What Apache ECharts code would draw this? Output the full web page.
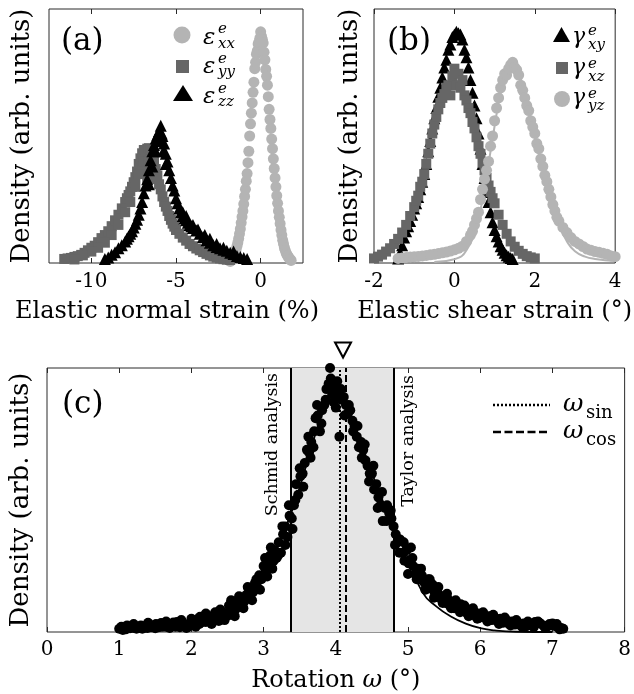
<!DOCTYPE html>
<html><head><meta charset="utf-8">
<script src="https://cdn.jsdelivr.net/npm/echarts@6/dist/echarts.min.js"></script>
<style>html,body{margin:0;padding:0;background:#fff}#c{width:634px;height:694px}</style>
</head><body><div id="c"></div>
<script>
// ---------- Panel (a): elastic normal strain (%) ----------
const aTicks = [-10, -5, 0];
const exx = [[-1.80,0.006],[-1.75,0.010],[-1.70,0.015],[-1.65,0.020],[-1.60,0.026],[-1.55,0.033],[-1.50,0.042],[-1.45,0.052],[-1.40,0.066],[-1.35,0.080],[-1.30,0.096],[-1.25,0.115],[-1.20,0.134],[-1.15,0.158],[-1.10,0.182],[-1.05,0.205],[-1.00,0.232],[-0.95,0.262],[-0.90,0.290],[-0.85,0.322],[-0.80,0.352],[-0.75,0.395],[-0.70,0.440],[-0.65,0.500],[-0.60,0.548],[-0.55,0.590],[-0.50,0.630],[-0.45,0.672],[-0.40,0.712],[-0.35,0.765],[-0.30,0.790],[-0.25,0.822],[-0.20,0.835],[-0.15,0.862],[-0.10,0.870],[-0.05,0.885],[0.00,0.910],[0.05,0.892],[0.10,0.880],[0.15,0.866],[0.20,0.830],[0.25,0.800],[0.30,0.762],[0.35,0.735],[0.40,0.700],[0.45,0.655],[0.50,0.605],[0.55,0.565],[0.60,0.530],[0.65,0.488],[0.70,0.450],[0.75,0.410],[0.80,0.372],[0.85,0.335],[0.90,0.300],[0.95,0.265],[1.00,0.235],[1.05,0.205],[1.10,0.180],[1.15,0.155],[1.20,0.130],[1.25,0.110],[1.30,0.090],[1.35,0.075],[1.40,0.060],[1.45,0.050],[1.50,0.040],[1.55,0.033],[1.60,0.028],[1.65,0.022],[1.70,0.018],[1.75,0.013],[1.80,0.010]];
const eyy = [[-11.6,0.016],[-11.4,0.018],[-11.2,0.020],[-11.0,0.024],[-10.8,0.027],[-10.6,0.032],[-10.4,0.040],[-10.2,0.050],[-10.0,0.060],[-9.8,0.068],[-9.6,0.082],[-9.4,0.098],[-9.2,0.110],[-9.0,0.125],[-8.8,0.145],[-8.6,0.168],[-8.4,0.190],[-8.2,0.215],[-8.0,0.240],[-7.9,0.255],[-7.8,0.268],[-7.7,0.282],[-7.6,0.300],[-7.5,0.318],[-7.4,0.338],[-7.3,0.360],[-7.2,0.390],[-7.1,0.412],[-7.0,0.432],[-6.9,0.445],[-6.8,0.440],[-6.7,0.450],[-6.6,0.452],[-6.5,0.446],[-6.4,0.448],[-6.3,0.405],[-6.2,0.370],[-6.1,0.345],[-6.0,0.310],[-5.9,0.290],[-5.8,0.262],[-5.7,0.240],[-5.6,0.222],[-5.5,0.205],[-5.4,0.185],[-5.3,0.170],[-5.2,0.155],[-5.1,0.143],[-5.0,0.130],[-4.8,0.115],[-4.6,0.100],[-4.4,0.088],[-4.2,0.075],[-4.0,0.066],[-3.8,0.057],[-3.6,0.050],[-3.4,0.043],[-3.2,0.036],[-3.0,0.030],[-2.8,0.025],[-2.6,0.021],[-2.4,0.018],[-2.2,0.015],[-2.0,0.013],[-1.8,0.012],
  [-7.0,0.380],[-6.9,0.400],[-6.8,0.360],[-6.7,0.330],[-6.6,0.400],[-6.5,0.350],[-6.4,0.380],[-6.3,0.330],[-7.2,0.350],[-7.4,0.300],[-7.7,0.240],[-8.0,0.200],[-8.4,0.150],[-8.8,0.110],[-9.2,0.080],[-9.6,0.060],[-10.0,0.045],[-10.5,0.030],[-11.0,0.014]];
const ezz = [[-9.2,0.016],[-9.0,0.022],[-8.8,0.032],[-8.6,0.042],[-8.4,0.058],[-8.2,0.070],[-8.0,0.085],[-7.9,0.095],[-7.8,0.105],[-7.7,0.115],[-7.6,0.125],[-7.5,0.140],[-7.4,0.155],[-7.3,0.170],[-7.2,0.190],[-7.1,0.215],[-7.0,0.240],[-6.9,0.275],[-6.8,0.305],[-6.7,0.330],[-6.6,0.365],[-6.5,0.405],[-6.4,0.440],[-6.3,0.465],[-6.2,0.490],[-6.1,0.505],[-6.0,0.520],[-5.9,0.540],[-5.8,0.500],[-5.7,0.470],[-5.6,0.430],[-5.5,0.400],[-5.4,0.365],[-5.3,0.335],[-5.2,0.305],[-5.1,0.285],[-5.0,0.255],[-4.9,0.235],[-4.8,0.215],[-4.7,0.200],[-4.6,0.185],[-4.5,0.175],[-4.4,0.168],[-4.3,0.158],[-4.2,0.150],[-4.1,0.145],[-4.0,0.138],[-3.8,0.128],[-3.6,0.115],[-3.4,0.102],[-3.2,0.090],[-3.0,0.080],[-2.8,0.070],[-2.6,0.063],[-2.4,0.058],[-2.2,0.052],[-2.0,0.048],[-1.8,0.040],[-1.6,0.035],[-1.4,0.028],[-1.2,0.024],[-1.0,0.020],[-0.8,0.016],
  [-4.6,0.200],[-4.4,0.185],[-4.0,0.150],[-3.7,0.132],[-3.3,0.110],[-3.0,0.095],[-2.6,0.075],[-2.2,0.060],[-1.6,0.045],[-6.6,0.310],[-6.4,0.380],[-6.2,0.440],[-6.0,0.480],[-5.85,0.510],[-5.75,0.440],[-5.6,0.390]];

// ---------- Panel (b): elastic shear strain (deg) ----------
const gxy = [[-1.40,0.018],[-1.35,0.040],[-1.30,0.070],[-1.25,0.100],[-1.20,0.125],[-1.15,0.145],[-1.10,0.165],[-1.05,0.190],[-1.00,0.215],[-0.95,0.235],[-0.90,0.260],[-0.85,0.290],[-0.80,0.320],[-0.75,0.350],[-0.70,0.390],[-0.65,0.440],[-0.60,0.480],[-0.55,0.530],[-0.50,0.570],[-0.45,0.610],[-0.40,0.655],[-0.35,0.690],[-0.30,0.730],[-0.25,0.770],[-0.20,0.800],[-0.15,0.840],[-0.10,0.860],[-0.05,0.890],[0.00,0.900],[0.05,0.910],[0.10,0.905],[0.15,0.900],[0.20,0.880],[0.25,0.840],[0.30,0.810],[0.35,0.770],[0.40,0.720],[0.45,0.670],[0.50,0.620],[0.55,0.570],[0.60,0.510],[0.65,0.450],[0.70,0.390],[0.75,0.335],[0.80,0.280],[0.85,0.240],[0.90,0.200],[0.95,0.160],[1.00,0.130],[1.05,0.105],[1.10,0.085],[1.15,0.066],[1.20,0.052],[1.25,0.040],[1.30,0.031],[1.35,0.025],[1.40,0.020],[1.45,0.016]];
const gxz = [[-2.00,0.018],[-1.90,0.025],[-1.80,0.033],[-1.70,0.045],[-1.60,0.058],[-1.50,0.075],[-1.40,0.095],[-1.30,0.120],[-1.20,0.150],[-1.10,0.185],[-1.00,0.220],[-0.95,0.245],[-0.90,0.265],[-0.85,0.300],[-0.80,0.320],[-0.75,0.350],[-0.70,0.390],[-0.65,0.430],[-0.60,0.470],[-0.55,0.510],[-0.50,0.545],[-0.45,0.575],[-0.40,0.605],[-0.35,0.630],[-0.30,0.650],[-0.25,0.665],[-0.20,0.690],[-0.15,0.700],[-0.10,0.660],[-0.05,0.735],[0.00,0.765],[0.05,0.700],[0.10,0.745],[0.15,0.690],[0.20,0.720],[0.25,0.660],[0.30,0.640],[0.35,0.610],[0.40,0.590],[0.45,0.555],[0.50,0.530],[0.55,0.495],[0.60,0.460],[0.65,0.430],[0.70,0.395],[0.75,0.365],[0.80,0.335],[0.85,0.305],[0.90,0.280],[0.95,0.255],[1.00,0.235],[1.10,0.190],[1.20,0.150],[1.30,0.115],[1.40,0.085],[1.50,0.064],[1.60,0.048],[1.70,0.036],[1.80,0.027],[1.90,0.022],[2.00,0.018]];
const gyz = [[-1.40,0.018],[-1.30,0.020],[-1.20,0.022],[-1.10,0.024],[-1.00,0.025],[-0.90,0.026],[-0.80,0.028],[-0.70,0.030],[-0.60,0.032],[-0.50,0.034],[-0.40,0.037],[-0.30,0.040],[-0.20,0.043],[-0.10,0.047],[0.00,0.052],[0.10,0.058],[0.20,0.066],[0.30,0.085],[0.40,0.110],[0.45,0.125],[0.50,0.150],[0.55,0.175],[0.60,0.200],[0.65,0.250],[0.70,0.290],[0.75,0.330],[0.80,0.365],[0.85,0.400],[0.90,0.460],[0.95,0.500],[1.00,0.560],[1.05,0.610],[1.10,0.650],[1.15,0.690],[1.20,0.720],[1.25,0.745],[1.30,0.740],[1.35,0.765],[1.40,0.780],[1.45,0.790],[1.50,0.770],[1.55,0.760],[1.60,0.740],[1.65,0.700],[1.70,0.680],[1.75,0.650],[1.80,0.620],[1.85,0.600],[1.90,0.560],[1.95,0.535],[2.00,0.510],[2.05,0.470],[2.10,0.450],[2.15,0.410],[2.20,0.380],[2.25,0.345],[2.30,0.320],[2.35,0.290],[2.40,0.260],[2.45,0.230],[2.50,0.205],[2.55,0.180],[2.60,0.165],[2.70,0.140],[2.80,0.120],[2.90,0.100],[3.00,0.085],[3.10,0.075],[3.20,0.065],[3.30,0.055],[3.40,0.050],[3.50,0.045],[3.60,0.042],[3.70,0.038],[3.80,0.034],[3.90,0.028],[4.00,0.025]];
const gyzFit = [[-0.5,0.004],[0.0,0.015],[0.3,0.050],[0.6,0.175],[0.9,0.440],[1.2,0.700],[1.45,0.780],[1.7,0.700],[2.0,0.500],[2.3,0.300],[2.6,0.150],[2.8,0.085],[3.0,0.046],[3.25,0.025],[3.5,0.016],[4.0,0.008]];

// ---------- Panel (c): rotation omega (deg) ----------
const omegaPts = [[1.00,0.012],[1.03,0.020],[1.06,0.015],[1.09,0.010],[1.12,0.018],[1.15,0.014],[1.18,0.022],[1.21,0.016],[1.24,0.012],[1.27,0.020],[1.30,0.025],[1.33,0.018],[1.36,0.022],[1.39,0.015],[1.42,0.028],[1.45,0.020],[1.48,0.024],[1.51,0.030],[1.54,0.018],[1.57,0.026],[1.60,0.022],[1.63,0.032],[1.66,0.020],[1.69,0.027],[1.72,0.024],[1.75,0.036],[1.78,0.020],[1.81,0.028],[1.84,0.018],[1.87,0.025],[1.90,0.022],[1.93,0.015],[1.96,0.030],[1.99,0.026],[2.02,0.042],[2.05,0.035],[2.08,0.048],[2.11,0.030],[2.14,0.040],[2.17,0.055],[2.20,0.038],[2.23,0.050],[2.26,0.045],[2.29,0.060],[2.32,0.048],[2.35,0.058],[2.38,0.042],[2.41,0.065],[2.44,0.055],[2.47,0.070],[2.50,0.062],[2.52,0.100],[2.55,0.078],[2.58,0.090],[2.61,0.085],[2.64,0.110],[2.67,0.098],[2.70,0.125],[2.73,0.115],[2.76,0.140],[2.79,0.130],[2.82,0.165],[2.85,0.150],[2.88,0.185],[2.91,0.170],[2.94,0.215],[2.97,0.200],[3.00,0.250],[3.03,0.230],[3.06,0.270],[3.09,0.290],[3.12,0.240],[3.15,0.310],[3.18,0.280],[3.21,0.340],[3.24,0.300],[3.27,0.370],[3.30,0.400],[3.33,0.360],[3.36,0.440],[3.39,0.430],[3.42,0.480],[3.45,0.560],[3.48,0.520],[3.51,0.590],[3.54,0.600],[3.57,0.640],[3.60,0.690],[3.63,0.680],[3.66,0.720],[3.69,0.700],[3.72,0.810],[3.75,0.820],[3.78,0.760],[3.81,0.840],[3.84,0.860],[3.87,0.920],[3.90,0.940],[3.92,1.000],[3.95,0.900],[3.98,0.930],[4.00,0.850],[4.03,0.900],[4.05,0.740],[4.08,0.880],[4.11,0.890],[4.14,0.860],[4.17,0.830],[4.20,0.840],[4.23,0.800],[4.26,0.780],[4.29,0.740],[4.32,0.700],[4.35,0.720],[4.38,0.690],[4.41,0.650],[4.44,0.630],[4.47,0.600],[4.50,0.600],[4.53,0.540],[4.56,0.560],[4.59,0.510],[4.62,0.480],[4.65,0.420],[4.68,0.470],[4.71,0.480],[4.74,0.450],[4.77,0.430],[4.80,0.400],[4.83,0.370],[4.86,0.340],[4.89,0.350],[4.92,0.300],[4.95,0.270],[4.98,0.310],[5.01,0.260],[5.04,0.320],[5.07,0.250],[5.10,0.220],[5.13,0.240],[5.16,0.200],[5.19,0.215],[5.22,0.190],[5.25,0.175],[5.28,0.200],[5.31,0.165],[5.34,0.180],[5.37,0.150],[5.40,0.160],[5.43,0.140],[5.46,0.125],[5.49,0.135],[5.52,0.110],[5.55,0.125],[5.58,0.100],[5.61,0.115],[5.64,0.090],[5.67,0.100],[5.70,0.085],[5.73,0.105],[5.76,0.080],[5.79,0.090],[5.82,0.070],[5.85,0.085],[5.88,0.065],[5.91,0.075],[5.94,0.060],[5.97,0.070],[6.00,0.055],[6.04,0.075],[6.08,0.050],[6.12,0.060],[6.16,0.045],[6.20,0.055],[6.24,0.040],[6.28,0.050],[6.32,0.035],[6.36,0.045],[6.40,0.030],[6.44,0.040],[6.48,0.028],[6.52,0.036],[6.56,0.025],[6.60,0.032],[6.64,0.022],[6.68,0.030],[6.72,0.025],[6.76,0.038],[6.80,0.040],[6.84,0.030],[6.88,0.024],[6.92,0.020],[6.96,0.030],[7.00,0.032],[7.04,0.022],[7.08,0.018],[7.12,0.015],[7.15,0.012]];
const omegaPtsExtra = [[1.05,0.008],[1.11,0.025],[1.20,0.030],[1.32,0.012],[1.40,0.035],[1.50,0.014],[1.58,0.034],[1.65,0.040],[1.70,0.015],[1.80,0.038],[1.86,0.045],[1.95,0.018],[2.00,0.050],[2.06,0.020],[2.12,0.058],[2.20,0.070],[2.28,0.030],[2.33,0.075],[2.40,0.085],[2.46,0.045],[2.55,0.120],[2.60,0.060],[2.66,0.135],[2.72,0.090],[2.78,0.170],[2.84,0.120],[2.90,0.200],[2.95,0.160],[3.02,0.280],[3.05,0.210],[3.10,0.320],[3.14,0.270],[3.20,0.290],[3.26,0.400],[3.30,0.330],[3.35,0.480],[3.40,0.390],[3.44,0.500],[3.50,0.620],[3.55,0.550],[3.62,0.740],[3.65,0.660],[3.70,0.760],[3.74,0.860],[3.80,0.790],[3.86,0.880],[3.93,0.960],[3.97,0.870],[4.02,0.950],[4.07,0.920],[4.12,0.820],[4.18,0.860],[4.24,0.760],[4.30,0.780],[4.36,0.660],[4.40,0.710],[4.46,0.570],[4.52,0.630],[4.58,0.470],[4.64,0.530],[4.70,0.420],[4.76,0.460],[4.82,0.330],[4.88,0.300],[4.94,0.340],[5.00,0.220],[5.06,0.280],[5.12,0.200],[5.18,0.240],[5.24,0.160],[5.30,0.200],[5.36,0.130],[5.42,0.170],[5.48,0.110],[5.54,0.145],[5.60,0.090],[5.66,0.120],[5.72,0.075],[5.78,0.100],[5.84,0.060],[5.90,0.090],[5.96,0.050],[6.02,0.070],[6.10,0.040],[6.18,0.065],[6.26,0.030],[6.34,0.055],[6.42,0.025],[6.50,0.045],[6.58,0.020],[6.66,0.040],[6.74,0.018],[6.82,0.035],[6.90,0.015],[6.98,0.025],[7.06,0.030],[7.10,0.010]];
const omegaFit = [[1.0,0.000],[1.5,0.003],[2.0,0.015],[2.25,0.030],[2.5,0.060],[2.75,0.115],[3.0,0.215],[3.2,0.325],[3.4,0.465],[3.6,0.640],[3.75,0.780],[3.85,0.860],[3.95,0.895],[4.05,0.885],[4.15,0.840],[4.3,0.750],[4.45,0.640],[4.6,0.530],[4.8,0.400],[5.0,0.280],[5.2,0.150],[5.4,0.095],[5.6,0.058],[5.8,0.032],[6.0,0.015],[6.2,0.006],[6.5,0.001],[7.0,0.000]];
const schmidOmega = 3.38;
const taylorOmega = 4.80;
const omegaSin = 4.05;
const omegaCos = 4.14;
const omegaMarker = [[4.10, 1.068]];

// ---------- styling ----------
const FONT = 'DejaVu Serif';
const C_LIGHT = '#b4b4b4', C_MID = '#666666', C_DARK = '#000000';
const FRAME = '#2a2a2a';
const TICK_FS = 20, NAME_FS = 24, YNAME_FS = 26;

const chart = echarts.init(document.getElementById('c'), null, {width:634, height:694});

function xAxisBottom(gi, min, max, interval, ticks, name, margin, gap, namePad) {
  const ax = {
    gridIndex: gi, type: 'value', min: min, max: max, position: 'bottom',
    axisLine: {show: false}, splitLine: {show: false},
    axisTick: {inside: true, length: 5, lineStyle: {color: FRAME, width: 1}},
    axisLabel: {margin: margin, fontFamily: FONT, fontSize: TICK_FS, color: '#000'},
    name: name, nameLocation: 'middle', nameGap: gap,
    nameTextStyle: {fontFamily: FONT, fontSize: NAME_FS, color: '#000', padding: namePad || 0,
      rich: {n: {fontFamily: FONT, fontSize: NAME_FS, color: '#000'}, i: {fontFamily: FONT, fontStyle: 'italic', fontSize: NAME_FS, color: '#000'}}}
  };
  if (interval) ax.interval = interval;
  if (ticks) { ax.axisTick.customValues = ticks; ax.axisLabel.customValues = ticks; }
  return ax;
}
function xAxisTop(gi, min, max, interval, ticks) {
  const ax = {
    gridIndex: gi, type: 'value', min: min, max: max, position: 'top',
    axisLine: {show: false}, splitLine: {show: false}, axisLabel: {show: false},
    axisTick: {inside: true, length: 5, lineStyle: {color: FRAME, width: 1}}
  };
  if (interval) ax.interval = interval;
  if (ticks) { ax.axisTick.customValues = ticks; ax.axisLabel.customValues = ticks; }
  return ax;
}
function yAxisFor(gi, gap) {
  return {
    gridIndex: gi, type: 'value', min: 0, max: 1,
    axisLine: {show: false}, axisTick: {show: false}, axisLabel: {show: false}, splitLine: {show: false},
    name: 'Density (arb. units)', nameLocation: 'middle', nameGap: gap,
    nameTextStyle: {fontFamily: FONT, fontSize: YNAME_FS, color: '#000'}
  };
}
function scatter(name, data, xi, yi, symbol, size, color, z) {
  return {name: name, type: 'scatter', data: data, xAxisIndex: xi, yAxisIndex: yi,
    symbol: symbol, symbolSize: size, itemStyle: {color: color, opacity: 1}, clip: false, z: z, silent: true};
}

const it = (t, x, y, fs, italic) => ({
  type: 'text', x: x, y: y, silent: true,
  style: {text: t, fontFamily: FONT, fontSize: fs, fontStyle: italic ? 'italic' : 'normal', fill: '#000', align: 'left', verticalAlign: 'middle'}
});

const staticGraphics = [
  it('(a)', 61, 42, 31, false),
  it('(b)', 387, 42, 31, false),
  it('(c)', 62, 405, 31, false),
  // legend (a)
  {type: 'circle', shape: {cx: 182, cy: 35, r: 8.5}, style: {fill: C_LIGHT}, silent: true},
  {type: 'rect', shape: {x: 176, y: 60, width: 13, height: 13}, style: {fill: C_MID}, silent: true},
  {type: 'polygon', shape: {points: [[183, 85], [173, 101], [193, 101]]}, style: {fill: C_DARK}, silent: true},
  it('ε', 203, 38, 23, true), it('e', 218, 29, 15, true), it('xx', 218, 44, 15, true),
  it('ε', 203, 67, 23, true), it('e', 218, 59, 15, true), it('yy', 218, 72, 15, true),
  it('ε', 203, 97, 23, true), it('e', 218, 89, 15, true), it('zz', 218, 102, 15, true),
  // legend (b)
  {type: 'polygon', shape: {points: [[561.5, 27], [553, 42], [570, 42]]}, style: {fill: C_DARK}, silent: true},
  {type: 'rect', shape: {x: 556, y: 62, width: 12, height: 12}, style: {fill: C_MID}, silent: true},
  {type: 'circle', shape: {cx: 562, cy: 99, r: 8}, style: {fill: C_LIGHT}, silent: true},
  it('γ', 572, 37, 22, true), it('e', 588, 31, 15, true), it('xy', 588, 45, 15, true),
  it('γ', 572, 68, 22, true), it('e', 588, 64, 15, true), it('xz', 588, 77, 15, true),
  it('γ', 572, 98, 22, true), it('e', 588, 94, 15, true), it('yz', 588, 106, 15, true),
  // legend (c)
  {type: 'line', shape: {x1: 493, y1: 405, x2: 550, y2: 405}, style: {stroke: '#000', lineWidth: 2.5, lineDash: [2, 2]}, silent: true},
  {type: 'line', shape: {x1: 493, y1: 432, x2: 550, y2: 432}, style: {stroke: '#000', lineWidth: 2.5, lineDash: [8, 3.5]}, silent: true},
  it('ω', 563, 404, 25, true), it('sin', 586, 413, 18, false),
  it('ω', 563, 431, 25, true), it('cos', 586, 440, 18, false)
];

const option = {
  animation: false,
  backgroundColor: '#fff',
  grid: [
    {left: 49, top: 9, width: 254, height: 254, show: true, borderColor: FRAME, borderWidth: 1, backgroundColor: 'transparent'},
    {left: 374, top: 9, width: 253, height: 254, show: true, borderColor: FRAME, borderWidth: 1, backgroundColor: 'transparent'},
    {left: 47, top: 368, width: 584, height: 264, show: true, borderColor: FRAME, borderWidth: 1, backgroundColor: 'transparent'}
  ],
  xAxis: [
    xAxisBottom(0, -12.5, 2.5, null, aTicks, 'Elastic normal strain (%)', 9, 37, [0, 18, 0, 0]),
    xAxisBottom(1, -2, 4, 2, null, 'Elastic shear strain (°)', 9, 37),
    xAxisBottom(2, 0, 8, 1, null, '{n|Rotation }{i|ω}{n| (°)}', 8, 37),
    xAxisTop(0, -12.5, 2.5, null, aTicks),
    xAxisTop(1, -2, 4, 2, null),
    xAxisTop(2, 0, 8, 1, null)
  ],
  yAxis: [yAxisFor(0, 14), yAxisFor(1, 11), yAxisFor(2, 13)],
  series: [
    scatter('exx', exx, 0, 0, 'circle', 11, C_LIGHT, 2),
    scatter('eyy', eyy, 0, 0, 'rect', 10, C_MID, 3),
    scatter('ezz', ezz, 0, 0, 'triangle', 12, C_DARK, 4),
    {type: 'line', data: gyzFit, xAxisIndex: 1, yAxisIndex: 1, smooth: true, showSymbol: false, silent: true,
      lineStyle: {color: C_LIGHT, width: 2}, z: 1},
    scatter('gxy', gxy, 1, 1, 'triangle', 12, C_DARK, 2),
    scatter('gxz', gxz, 1, 1, 'rect', 10, C_MID, 3),
    scatter('gyz', gyz, 1, 1, 'circle', 11, C_LIGHT, 4),
    {type: 'line', data: [], xAxisIndex: 2, yAxisIndex: 2, silent: true, z: 0,
      markArea: {silent: true, itemStyle: {color: '#e5e5e5'}, data: [[{xAxis: schmidOmega}, {xAxis: taylorOmega}]]}},
    {type: 'line', data: omegaFit, xAxisIndex: 2, yAxisIndex: 2, smooth: true, showSymbol: false, silent: true,
      lineStyle: {color: '#000', width: 1.8}, z: 2,
      markLine: {silent: true, symbol: ['none', 'none'], label: {show: false},
        data: [
          {xAxis: schmidOmega, lineStyle: {color: '#000', width: 2, type: 'solid'}},
          {xAxis: taylorOmega, lineStyle: {color: '#000', width: 2, type: 'solid'}},
          {xAxis: omegaSin, lineStyle: {color: '#000', width: 2, type: [2, 2]}},
          {xAxis: omegaCos, lineStyle: {color: '#000', width: 2, type: [7, 3]}}
        ]}},
    scatter('omega', omegaPts.concat(omegaPtsExtra), 2, 2, 'circle', 10, C_DARK, 3),
    {type: 'scatter', data: omegaMarker, xAxisIndex: 2, yAxisIndex: 2, symbol: 'triangle', symbolRotate: 180,
      symbolSize: [16, 15], clip: false, silent: true, z: 5,
      itemStyle: {color: '#fff', borderColor: '#000', borderWidth: 2, opacity: 1}}
  ],
  graphic: staticGraphics
};
chart.setOption(option);

// rotated annotations anchored to the analysis lines
const pS = chart.convertToPixel({xAxisIndex: 2, yAxisIndex: 2}, [schmidOmega, 1]);
const pT = chart.convertToPixel({xAxisIndex: 2, yAxisIndex: 2}, [taylorOmega, 1]);
const rotText = (t, x, y) => ({type: 'text', x: x, y: y, rotation: Math.PI / 2, silent: true,
  style: {text: t, fontFamily: FONT, fontSize: 17.5, fill: '#000', align: 'right', verticalAlign: 'middle'}});
chart.setOption({graphic: staticGraphics.concat([
  rotText('Schmid analysis', pS[0] - 19, pS[1] + 5),
  rotText('Taylor analysis', pT[0] + 15, pT[1] + 7)
])});
</script></body></html>
